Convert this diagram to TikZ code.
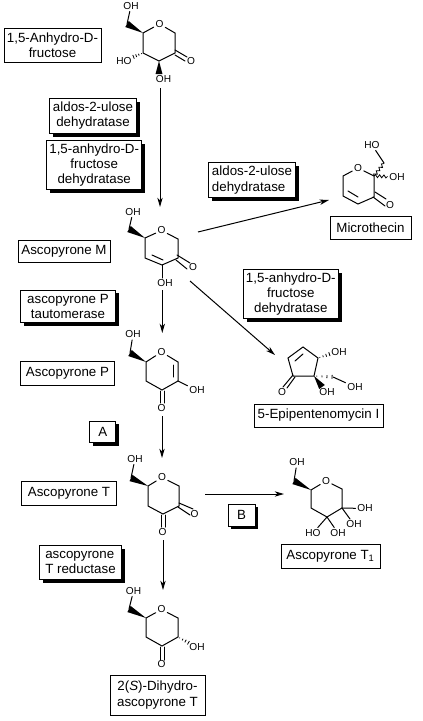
\documentclass[tikz,border=0pt]{standalone}
\usepackage{fontspec}
\setmainfont{Liberation Sans}
\usetikzlibrary{arrows.meta,calc,shadows,decorations.pathmorphing}
\tikzset{
  lab/.style={draw=black,line width=.75pt,fill=white,align=center,inner sep=0pt,outer sep=0pt,
    font=\fontsize{10}{11.4}\selectfont},
  shad/.style={lab,drop shadow={shadow xshift=2.4pt,shadow yshift=-2.4pt,fill=black,opacity=1}},
  atom/.style={inner sep=1.2pt,font=\fontsize{7.6}{8}\selectfont},
  bond/.style={line width=.75pt,line cap=round},
  rxn/.style={line width=.75pt,-{Stealth[length=7pt,width=4pt,inset=2pt]}},
  wavy/.style={line width=.6pt,decorate,decoration={snake,amplitude=1.1pt,segment length=3.2pt}},
}
\newcommand{\wedgebond}[2]{\fill (#1) -- ($(#2)!2.6pt!90:(#1)$) -- ($(#2)!2.6pt!-90:(#1)$) -- cycle;}
\newcommand{\hashbond}[2]{\foreach \t/\w in {.15/.3,.42/.7,.68/1.1,.95/1.5}{
  \draw[line width=.6pt] ($(#1)!\t!(#2)!\w pt!90:(#2)$) -- ($(#1)!\t!(#2)!\w pt!-90:(#2)$);}}
\begin{document}
\begin{tikzpicture}[x=.75pt,y=-.75pt]
\useasboundingbox (0,0) rectangle (422,721);

% ---------- labels
\node[lab,minimum width=72.75pt,minimum height=25.5pt] (lAnh) at (52.5,45) {1,5-Anhydro-D-\\fructose};
\node[shad,minimum width=65.5pt,minimum height=26.25pt] (eAld1) at (93,115.8) {aldos-2-ulose\\dehydratase};
\node[shad,minimum width=71.25pt,minimum height=37pt] (eAnh1) at (94.2,165.3) {1,5-anhydro-D-\\fructose\\dehydratase};
\node[lab,minimum width=69pt,minimum height=16.5pt] (lM) at (64,251) {Ascopyrone M};
\node[shad,minimum width=71.5pt,minimum height=24.25pt] (eTaut) at (68,306.2) {ascopyrone P\\tautomerase};
\node[lab,minimum width=70.8pt,minimum height=18.2pt] (lP) at (67.5,373.2) {Ascopyrone P};
\node[shad,minimum width=19.3pt,minimum height=16pt] (lA) at (102.8,431.7) {A};
\node[lab,minimum width=71.5pt,minimum height=18.2pt] (lT) at (69,493.2) {Ascopyrone T};
\node[shad,minimum width=20.25pt,minimum height=16.5pt] (lB) at (241.5,515) {B};
\node[shad,minimum width=61.8pt,minimum height=25.2pt,align=left] (eRed) at (80.5,562.5) {ascopyrone\\T reductase};
\node[lab,minimum width=71.25pt,minimum height=30pt] (lDi) at (157.5,695) {2(\textit{S})-Dihydro-\\ascopyrone T};
\node[lab,minimum width=74.25pt,minimum height=18pt] (lT1) at (330.5,556) {Ascopyrone T$_{\mathrm{1}}$};
\node[lab,minimum width=96.75pt,minimum height=17.25pt] (lEpi) at (318.5,415.5) {5-Epipentenomycin I};
\node[lab,minimum width=60.75pt,minimum height=17.5pt] (lMic) at (370.5,227.7) {Microthecin};
\node[shad,minimum width=65.5pt,minimum height=26pt,align=left] (eAld2) at (252,180) {aldos-2-ulose\\dehydratase};
\node[shad,minimum width=71.25pt,minimum height=36.75pt] (eAnh2) at (290.8,293.8) {1,5-anhydro-D-\\fructose\\dehydratase};

% ---------- 1,5-anhydro-D-fructose
\coordinate (a1) at (143,33); \coordinate (a3) at (175,33); \coordinate (a4) at (175,53);
\coordinate (a5) at (159,61); \coordinate (a6) at (143,53); \coordinate (a7) at (127,24);
\coordinate (a6h) at (133,57); \coordinate (a5b) at (159,74);
\node[atom] (aO) at (159.5,24) {O};
\node[atom] (aOH) at (131,6) {OH};
\node[atom] (aKO) at (191,61.5) {O};
\node[atom] (aHO) at (124,61.5) {HO};
\node[atom] (aOH2) at (163.5,79.5) {OH};
\draw[bond] (aO) -- (a1) -- (a6) -- (a5) -- (a4) -- (a3) -- (aO);
\wedgebond{a1}{a7}
\draw[bond] (a7) -- (aOH);
\draw[bond] (175,50) -- (187,57);
\draw[bond] (175,55) -- (185,61);
\hashbond{a6}{a6h}
\wedgebond{a5}{a5b}

% ---------- Ascopyrone M
\coordinate (m1) at (145,238); \coordinate (m3) at (178,239); \coordinate (m4) at (178,258);
\coordinate (m5) at (162,265); \coordinate (m6) at (145,258); \coordinate (m7) at (129,229);
\node[atom] (mO) at (161.5,230.5) {O};
\node[atom] (mOH) at (133,212) {OH};
\node[atom] (mKO) at (193,267.5) {O};
\node[atom] (mOH2) at (165,283.5) {OH};
\draw[bond] (mO) -- (m1) -- (m6) -- (m5) -- (m4) -- (m3) -- (mO);
\draw[bond] (152,255) -- (163,260);
\wedgebond{m1}{m7}
\draw[bond] (m7) -- (mOH);
\draw[bond] (177,255) -- (190,263);
\draw[bond] (176,260) -- (187,269);
\draw[bond] (m5) -- (162,278);

% ---------- Ascopyrone P
\coordinate (p1) at (146,362); \coordinate (p3) at (178,362); \coordinate (p4) at (178,381);
\coordinate (p5) at (162,390); \coordinate (p6) at (146,381); \coordinate (p7) at (130,353);
\node[atom] (pO) at (161.5,352) {O};
\node[atom] (pOH) at (133,334.5) {OH};
\node[atom] (pKO) at (161.5,408.5) {O};
\node[atom] (pOH2) at (197,390.5) {OH};
\draw[bond] (pO) -- (p1) -- (p6) -- (p5) -- (p4) -- (p3) -- (pO);
\draw[bond] (173,365) -- (173,377);
\wedgebond{p1}{p7}
\draw[bond] (p7) -- (pOH);
\draw[bond] (160,391) -- (160,403);
\draw[bond] (164.5,391) -- (164.5,403);
\draw[bond] (p4) -- (pOH2);

% ---------- Ascopyrone T
\coordinate (t1) at (148,486); \coordinate (t3) at (179,486); \coordinate (t4) at (179,506);
\coordinate (t5) at (163,514); \coordinate (t6) at (148,506); \coordinate (t7) at (131,478);
\node[atom] (tO) at (162,477.5) {O};
\node[atom] (tOH) at (135,459) {OH};
\node[atom] (tKO) at (194.5,514.5) {O};
\node[atom] (tKO2) at (162.5,532.5) {O};
\draw[bond] (tO) -- (t1) -- (t6) -- (t5) -- (t4) -- (t3) -- (tO);
\wedgebond{t1}{t7}
\draw[bond] (t7) -- (tOH);
\draw[bond] (179,503) -- (193,509);
\draw[bond] (178,507) -- (190,515);
\draw[bond] (161,515) -- (161,527);
\draw[bond] (165.5,515) -- (165.5,527);

% ---------- 2(S)-dihydro
\coordinate (d1) at (146,618); \coordinate (d3) at (178,618); \coordinate (d4) at (178,637);
\coordinate (d5) at (162,646); \coordinate (d6) at (146,637); \coordinate (d7) at (129,609);
\coordinate (d4h) at (189,643);
\node[atom] (dO) at (161.5,609.5) {O};
\node[atom] (dOH) at (133.5,591) {OH};
\node[atom] (dOH2) at (197,647) {OH};
\node[atom] (dKO) at (161.5,664.5) {O};
\draw[bond] (dO) -- (d1) -- (d6) -- (d5) -- (d4) -- (d3) -- (dO);
\wedgebond{d1}{d7}
\draw[bond] (d7) -- (dOH);
\hashbond{d4}{d4h}
\draw[bond] (160,647) -- (160,660);
\draw[bond] (164.5,647) -- (164.5,660);

% ---------- Ascopyrone T1
\coordinate (u1) at (311,490); \coordinate (u3) at (342,489); \coordinate (u4) at (342,508);
\coordinate (u5) at (327,517); \coordinate (u6) at (311,508); \coordinate (u7) at (294,481);
\node[atom] (uO) at (326,481) {O};
\node[atom] (uOH) at (297,462.5) {OH};
\node[atom] (uOH2) at (365,508.5) {OH};
\node[atom] (uOH3) at (354,524.5) {OH};
\node[atom] (uHO) at (313,533) {HO};
\node[atom] (uOH4) at (338,533) {OH};
\draw[bond] (uO) -- (u1) -- (u6) -- (u5) -- (u4) -- (u3) -- (uO);
\wedgebond{u1}{u7}
\draw[bond] (u7) -- (uOH);
\draw[bond] (u4) -- (uOH2);
\draw[bond] (u4) -- (uOH3);
\draw[bond] (u5) -- (uHO);
\draw[bond] (u5) -- (uOH4);

% ---------- Microthecin
\coordinate (c1) at (343,176); \coordinate (c3) at (374,176); \coordinate (c4) at (374,197);
\coordinate (c5) at (358,204); \coordinate (c6) at (343,196); \coordinate (c7) at (384,163);
\node[atom] (cO) at (358,168) {O};
\node[atom] (cHO) at (372,145) {HO};
\node[atom] (cOH) at (397,177) {OH};
\node[atom] (cKO) at (390,205.5) {O};
\draw[bond] (cO) -- (c1) -- (c6) -- (c5) -- (c4) -- (c3) -- (cO);
\draw[bond] (348,191) -- (358,197);
\draw[wavy] (c3) -- (c7);
\draw[bond] (c7) -- (cHO);
\draw[wavy] (c3) -- (cOH);
\draw[bond] (375,192) -- (386,199);
\draw[bond] (373,197) -- (385,206);

% ---------- 5-Epipentenomycin I
\coordinate (e1) at (303,347); \coordinate (e2) at (318,358); \coordinate (e3) at (314,376);
\coordinate (e4) at (293,376); \coordinate (e5) at (288,358); \coordinate (e6) at (322,387);
\coordinate (e7) at (333,377); \coordinate (e8) at (295,361); \coordinate (e9) at (303,354);
\coordinate (e2h) at (330,354);
\node[atom] (eKO) at (282,392) {O};
\node[atom] (eOH) at (339,352.5) {OH};
\node[atom] (eOH2) at (327,392) {OH};
\node[atom] (eOH3) at (355,387) {OH};
\draw[bond] (e1) -- (e2) -- (e3) -- (e4) -- (e5) -- cycle;
\draw[bond] (e8) -- (e9);
\hashbond{e2}{e2h}
\wedgebond{e3}{e6}
\hashbond{e3}{e7}
\draw[bond] (e7) -- (eOH3);
\draw[bond] (293,375) -- (283,387);
\draw[bond] (295,377) -- (287,388);

% ---------- reaction arrows
\coordinate (r1a) at (160,88);  \coordinate (r1b) at (160,207);
\coordinate (r2a) at (162.3,290); \coordinate (r2b) at (162.3,333);
\coordinate (r3a) at (162,416); \coordinate (r3b) at (162,458);
\coordinate (r4a) at (163,540); \coordinate (r4b) at (163,590);
\coordinate (r5a) at (205,494); \coordinate (r5b) at (284,494);
\coordinate (r6a) at (198,232); \coordinate (r6b) at (329,200);
\coordinate (r7a) at (190,281); \coordinate (r7b) at (275,355);
\draw[rxn] (r1a) -- (r1b);
\draw[rxn] (r2a) -- (r2b);
\draw[rxn] (r3a) -- (r3b);
\draw[rxn] (r4a) -- (r4b);
\draw[rxn] (r5a) -- (r5b);
\draw[rxn] (r6a) -- (r6b);
\draw[rxn] (r7a) -- (r7b);
\end{tikzpicture}
\end{document}
